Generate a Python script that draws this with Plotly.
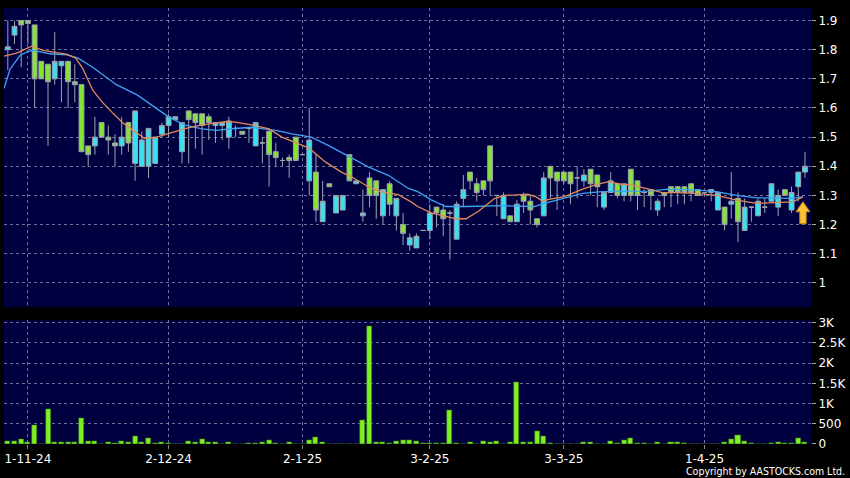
import plotly.graph_objects as go
from plotly.subplots import make_subplots

# ---------------- data ----------------
opens = [1.80, 1.85, 1.90, 1.90, 1.885, 1.76, 1.75, 1.70, 1.745, 1.76,
         1.69, 1.68, 1.47, 1.47, 1.55, 1.50, 1.48, 1.47, 1.55, 1.41,
         1.40, 1.40, 1.41, 1.51, 1.54, 1.56, 1.45, 1.59, 1.58, 1.58,
         1.57, 1.54, 1.54, 1.50, 1.53, 1.52, 1.53, 1.47, 1.48, 1.52,
         1.45, 1.42, 1.43, 1.50, 1.44, 1.35, 1.38, 1.21, 1.34, 1.24,
         1.25, 1.44, 1.34, 1.23, 1.36, 1.35, 1.23, 1.34, 1.23, 1.20,
         1.13, 1.12, 1.18, 1.18, 1.26, 1.25, 1.24, 1.15, 1.29, 1.38,
         1.34, 1.35, 1.47, 1.30, 1.22, 1.23, 1.21, 1.30, 1.28, 1.22,
         1.23, 1.40, 1.38, 1.38, 1.38, 1.36, 1.35, 1.39, 1.37, 1.26,
         1.31, 1.34, 1.30, 1.39, 1.35, 1.31, 1.32, 1.25, 1.31, 1.33,
         1.33, 1.33, 1.34, 1.32, 1.31, 1.31, 1.25, 1.26, 1.27, 1.29,
         1.18, 1.26, 1.23, 1.26, 1.28, 1.26, 1.32, 1.25, 1.33, 1.38]
highs = [1.90, 1.90, 1.90, 1.90, 1.885, 1.76, 1.75, 1.86, 1.76, 1.76,
         1.75, 1.68, 1.47, 1.57, 1.55, 1.54, 1.51, 1.57, 1.55, 1.59,
         1.52, 1.53, 1.50, 1.55, 1.58, 1.57, 1.55, 1.59, 1.58, 1.58,
         1.58, 1.55, 1.55, 1.57, 1.54, 1.52, 1.53, 1.55, 1.50, 1.53,
         1.48, 1.43, 1.44, 1.50, 1.44, 1.60, 1.44, 1.35, 1.34, 1.30,
         1.30, 1.44, 1.35, 1.32, 1.38, 1.35, 1.32, 1.35, 1.29, 1.24,
         1.17, 1.17, 1.18, 1.27, 1.26, 1.27, 1.25, 1.28, 1.37, 1.38,
         1.36, 1.35, 1.47, 1.30, 1.31, 1.23, 1.285, 1.31, 1.30, 1.22,
         1.38, 1.40, 1.38, 1.38, 1.38, 1.40, 1.39, 1.39, 1.37, 1.31,
         1.38, 1.34, 1.34, 1.39, 1.35, 1.32, 1.32, 1.29, 1.31, 1.33,
         1.33, 1.33, 1.34, 1.32, 1.31, 1.32, 1.31, 1.26, 1.38, 1.31,
         1.29, 1.26, 1.29, 1.29, 1.34, 1.32, 1.32, 1.33, 1.38, 1.45]
lows = [1.73, 1.82, 1.74, 1.82, 1.60, 1.70, 1.47, 1.68, 1.62, 1.60,
        1.62, 1.45, 1.40, 1.44, 1.50, 1.44, 1.40, 1.44, 1.45, 1.35,
        1.40, 1.36, 1.41, 1.50, 1.50, 1.56, 1.41, 1.41, 1.46, 1.44,
        1.49, 1.48, 1.49, 1.46, 1.50, 1.51, 1.48, 1.47, 1.41, 1.33,
        1.40, 1.40, 1.36, 1.42, 1.44, 1.30, 1.21, 1.21, 1.33, 1.24,
        1.25, 1.35, 1.34, 1.21, 1.26, 1.22, 1.20, 1.23, 1.18, 1.13,
        1.11, 1.12, 1.18, 1.15, 1.19, 1.16, 1.08, 1.15, 1.26, 1.32,
        1.28, 1.30, 1.30, 1.23, 1.22, 1.21, 1.21, 1.24, 1.20, 1.19,
        1.23, 1.29, 1.25, 1.34, 1.27, 1.29, 1.33, 1.30, 1.26, 1.25,
        1.31, 1.29, 1.28, 1.28, 1.25, 1.26, 1.25, 1.23, 1.26, 1.26,
        1.27, 1.27, 1.28, 1.30, 1.30, 1.28, 1.25, 1.18, 1.22, 1.14,
        1.18, 1.21, 1.23, 1.24, 1.28, 1.23, 1.30, 1.24, 1.28, 1.36]
closes = [1.81, 1.88, 1.885, 1.89, 1.70, 1.70, 1.69, 1.76, 1.76, 1.69,
          1.68, 1.45, 1.44, 1.50, 1.50, 1.49, 1.47, 1.50, 1.48, 1.59,
          1.49, 1.53, 1.50, 1.54, 1.57, 1.57, 1.55, 1.56, 1.55, 1.54,
          1.55, 1.55, 1.55, 1.555, 1.53, 1.51, 1.53, 1.55, 1.48, 1.44,
          1.43, 1.42, 1.42, 1.42, 1.44, 1.49, 1.25, 1.28, 1.33, 1.30,
          1.30, 1.35, 1.35, 1.24, 1.30, 1.30, 1.32, 1.27, 1.29, 1.17,
          1.155, 1.16, 1.18, 1.24, 1.24, 1.22, 1.24, 1.27, 1.32, 1.35,
          1.31, 1.32, 1.35, 1.30, 1.30, 1.21, 1.27, 1.28, 1.25, 1.20,
          1.36, 1.36, 1.35, 1.35, 1.34, 1.36, 1.37, 1.34, 1.33, 1.31,
          1.35, 1.30, 1.34, 1.30, 1.30, 1.31, 1.30, 1.28, 1.30, 1.31,
          1.31, 1.31, 1.31, 1.30, 1.31, 1.32, 1.31, 1.20, 1.28, 1.21,
          1.26, 1.26, 1.28, 1.26, 1.34, 1.30, 1.30, 1.31, 1.38, 1.40]
volumes = [65, 65, 123, 41, 466, 0, 866, 33, 57, 41,
           33, 637, 65, 82, 0, 49, 16, 74, 33, 188,
           57, 155, 16, 33, 25, 8, 0, 82, 57, 123,
           57, 57, 8, 33, 8, 0, 25, 25, 49, 106,
           16, 0, 57, 0, 0, 106, 180, 57, 0, 0,
           0, 0, 0, 596, 2900, 33, 49, 25, 82, 106,
           98, 82, 25, 25, 16, 25, 833, 25, 0, 33,
           0, 82, 57, 74, 0, 57, 1536, 33, 57, 327,
           196, 25, 0, 0, 0, 0, 41, 41, 0, 0,
           74, 25, 98, 155, 25, 25, 0, 49, 0, 33,
           33, 25, 0, 0, 0, 0, 0, 33, 123, 220,
           65, 25, 0, 0, 25, 49, 25, 25, 139, 33]
day_index = list(range(len(closes)))

# moving averages (trading-day position, value)
ma_short_x = [-0.57, 1.32, 3.55, 5.27, 7.26, 8.75, 10.1, 11.2, 12.7, 14.1,
              15.6, 17.1, 18.6, 20.4, 22.2, 24.1, 26.6, 29.0, 31.1, 33.0,
              36.4, 39.0, 40.9, 43.4, 44.9, 47.4, 49.8, 51.3, 53.8, 55.7,
              58.3, 60.2, 61.2, 63.2, 65.3, 66.9, 68.4, 70.2, 72.7, 74.2,
              76.1, 77.6, 78.8, 79.8, 81.0, 83.1, 85.8, 87.7, 89.7, 91.7,
              93.6, 95.7, 97.7, 100.1, 102.6, 105.8, 108.8, 111.8, 114.8, 117.2,
              118.7]
ma_short_y = [1.778, 1.788, 1.812, 1.798, 1.790, 1.785, 1.772, 1.735, 1.660, 1.620,
              1.584, 1.550, 1.525, 1.496, 1.500, 1.513, 1.530, 1.542, 1.549, 1.555,
              1.542, 1.528, 1.500, 1.477, 1.463, 1.415, 1.380, 1.364, 1.330, 1.312,
              1.303, 1.278, 1.262, 1.240, 1.228, 1.220, 1.220, 1.245, 1.290, 1.300,
              1.302, 1.304, 1.296, 1.281, 1.287, 1.296, 1.322, 1.336, 1.347, 1.338,
              1.334, 1.322, 1.310, 1.310, 1.307, 1.300, 1.284, 1.273, 1.276, 1.278,
              1.295]
ma_long_x = [-0.57, 0.33, 1.81, 2.8, 3.74, 6.27, 8.75, 10.43, 12.66, 16.2,
             19.3, 22.2, 24.1, 26.6, 29.0, 31.1, 33.0, 36.4, 40.0, 42.4,
             45.3, 47.9, 50.8, 53.8, 56.8, 59.8, 61.2, 63.2, 65.4, 68.7,
             73.6, 78.6, 80.1, 82.1, 83.6, 85.8, 88.7, 92.7, 95.7, 98.6,
             102.6, 105.8, 108.8, 111.8, 114.8, 117.2, 118.7]
ma_long_y = [1.667, 1.733, 1.780, 1.792, 1.798, 1.786, 1.782, 1.772, 1.740, 1.680,
             1.645, 1.597, 1.568, 1.540, 1.528, 1.523, 1.528, 1.534, 1.523, 1.511,
             1.500, 1.471, 1.435, 1.398, 1.369, 1.324, 1.313, 1.285, 1.262, 1.262,
             1.265, 1.262, 1.273, 1.285, 1.293, 1.307, 1.313, 1.313, 1.315, 1.322,
             1.319, 1.313, 1.300, 1.292, 1.292, 1.290, 1.295]

month_tick_index = [3, 24, 44, 63, 83, 104]
month_tick_labels = ["1-11-24", "2-12-24", "2-1-25", "3-2-25", "3-3-25", "1-4-25"]
price_ticks = [1.0, 1.1, 1.2, 1.3, 1.4, 1.5, 1.6, 1.7, 1.8, 1.9]
price_tick_labels = ["1", "1.1", "1.2", "1.3", "1.4", "1.5", "1.6", "1.7", "1.8", "1.9"]
volume_ticks = [0, 500, 1000, 1500, 2000, 2500, 3000]
volume_tick_labels = ["0", "500", "1K", "1.5K", "2K", "2.5K", "3K"]

signal_index = 118.7
signal_price = 1.278

# ---------------- styling ----------------
NAVY = "#000040"
GRID = "rgba(150,150,185,0.75)"
TXT = "#ffffff"
FONT = "DejaVu Sans, Verdana, sans-serif"

fig = make_subplots(rows=2, cols=1, shared_xaxes=True, vertical_spacing=0.03)

fig.add_trace(go.Candlestick(
    x=day_index, open=opens, high=highs, low=lows, close=closes,
    increasing=dict(fillcolor="#36e2f2", line=dict(color="#9ca3ad", width=1)),
    decreasing=dict(fillcolor="#86e436", line=dict(color="#9ca3ad", width=1)),
    whiskerwidth=0, showlegend=False, hoverinfo="skip"), row=1, col=1)

fig.add_trace(go.Scatter(x=ma_long_x, y=ma_long_y, mode="lines",
                         line=dict(color="#3fa2ee", width=1.3), showlegend=False,
                         hoverinfo="skip"), row=1, col=1)
fig.add_trace(go.Scatter(x=ma_short_x, y=ma_short_y, mode="lines",
                         line=dict(color="#e0895a", width=1.3), showlegend=False,
                         hoverinfo="skip"), row=1, col=1)

# signal arrow (shape in pixel offsets converted to data units)
px_x = 1 / 6.73
px_y = 1 / 293.3
arrow_dx = [0, 7, 3.2, 3.2, -3.2, -3.2, -7, 0]
arrow_dy = [0, -10, -10, -22, -22, -10, -10, 0]
fig.add_trace(go.Scatter(
    x=[signal_index + d * px_x for d in arrow_dx],
    y=[signal_price + d * px_y for d in arrow_dy],
    mode="lines", fill="toself", fillcolor="#f6c436",
    line=dict(color="#c08a12", width=1), showlegend=False, hoverinfo="skip"),
    row=1, col=1)

fig.add_trace(go.Bar(x=day_index, y=volumes, width=0.75,
                     marker=dict(color="#7ff022", line=dict(color="#2f6a14", width=0.6)),
                     showlegend=False, hoverinfo="skip"), row=2, col=1)

xcommon = dict(range=[-0.57, 119.9], tickmode="array", tickvals=month_tick_index,
               showgrid=True, gridcolor=GRID, griddash="3px,3px", gridwidth=1,
               zeroline=False, showline=False, rangeslider=dict(visible=False),
               fixedrange=True)
fig.update_xaxes(**xcommon)
fig.update_xaxes(showticklabels=False, ticks="", row=1, col=1)
fig.update_xaxes(ticktext=month_tick_labels, ticks="outside", ticklen=4,
                 tickcolor="#888888", tickfont=dict(color=TXT, size=12, family=FONT),
                 row=2, col=1)

fig.update_yaxes(side="right", showgrid=True, gridcolor=GRID, griddash="3px,3px",
                 zeroline=False, showline=False, ticks="outside", ticklen=4,
                 tickcolor="#aaaaaa", tickfont=dict(color=TXT, size=12, family=FONT))
fig.update_yaxes(range=[0.917, 1.943], tickmode="array", tickvals=price_ticks,
                 ticktext=price_tick_labels, domain=[0.314, 1.0], row=1, col=1)
fig.update_yaxes(range=[0, 3060], tickmode="array", tickvals=volume_ticks,
                 ticktext=volume_tick_labels, domain=[0.0, 0.284], row=2, col=1)

fig.add_annotation(text="Copyright by AASTOCKS.com Ltd.", xref="paper", yref="paper",
                   x=1.045, y=-0.0615, xanchor="right", yanchor="middle",
                   showarrow=False,
                   font=dict(color=TXT, size=10.5,
                             family="DejaVu Sans Condensed, DejaVu Sans"))

fig.update_layout(width=850, height=478, paper_bgcolor="#000000", plot_bgcolor=NAVY,
                  margin=dict(l=4, r=35, t=5, b=34), showlegend=False,
                  hovermode=False, bargap=0, boxgap=0.28, boxgroupgap=0)

fig.write_html(
    "out.html",
    config={"displayModeBar": False},
    post_script="document.body.style.margin='0';document.body.style.padding='0';"
                "document.documentElement.style.overflow='hidden';"
                "document.body.style.background='#000';")
